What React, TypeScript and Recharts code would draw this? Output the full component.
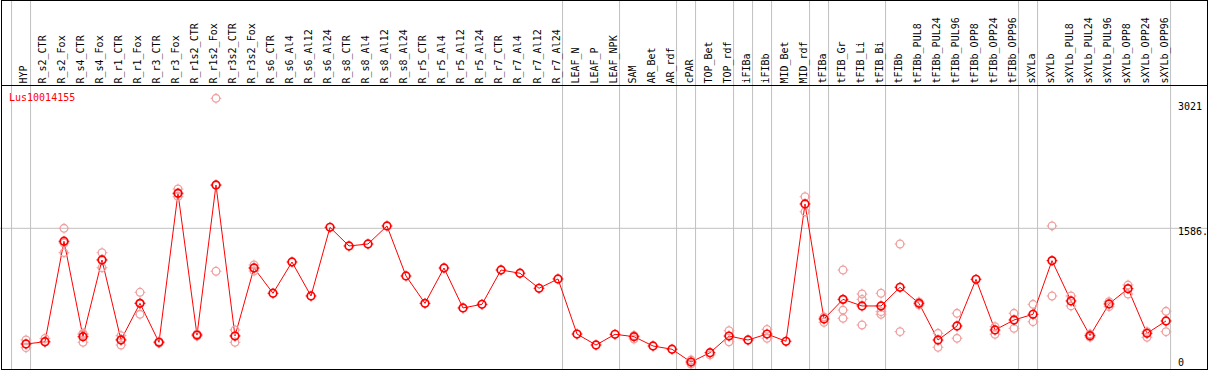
import React from 'react';
import { ComposedChart, Line, Scatter, XAxis, YAxis, ReferenceLine } from 'recharts';

const categories = [
  'HYP', 'R_s2_CTR', 'R_s2_Fox', 'R_s4_CTR', 'R_s4_Fox', 'R_r1_CTR', 'R_r1_Fox', 'R_r3_CTR', 'R_r3_Fox',
  'R_r1s2_CTR', 'R_r1s2_Fox', 'R_r3s2_CTR', 'R_r3s2_Fox', 'R_s6_CTR', 'R_s6_Al4', 'R_s6_Al12', 'R_s6_Al24',
  'R_s8_CTR', 'R_s8_Al4', 'R_s8_Al12', 'R_s8_Al24', 'R_r5_CTR', 'R_r5_Al4', 'R_r5_Al12', 'R_r5_Al24',
  'R_r7_CTR', 'R_r7_Al4', 'R_r7_Al12', 'R_r7_Al24', 'LEAF_N', 'LEAF_P', 'LEAF_NPK', 'SAM', 'AR_Bet', 'AR_rdf',
  'cPAR', 'TOP_Bet', 'TOP_rdf', 'iFIBa', 'iFIBb', 'MID_Bet', 'MID_rdf', 'tFIBa', 'tFIB_Gr', 'tFIB_Li', 'tFIB_Bi',
  'tFIBb', 'tFIBb_PUL8', 'tFIBb_PUL24', 'tFIBb_PUL96', 'tFIBb_OPP8', 'tFIBb_OPP24', 'tFIBb_OPP96', 'sXYLa',
  'sXYLb', 'sXYLb_PUL8', 'sXYLb_PUL24', 'sXYLb_PUL96', 'sXYLb_OPP8', 'sXYLb_OPP24', 'sXYLb_OPP96',
];

const meanValues = [
  309, 334, 1443, 390, 1236, 353, 758, 328, 1973,
  408, 2064, 397, 1148, 869, 1214, 839, 1597,
  1391, 1413, 1612, 1060, 758, 1148, 707, 747,
  1126, 1090, 924, 1027, 419, 298, 416, 390, 287, 251,
  110, 213, 397, 353, 419, 339, 1855, 585, 802, 729, 729,
  935, 758, 353, 508, 1023, 464, 574, 637,
  1229, 784, 401, 751, 920, 427, 563,
];

const replicateValues: number[][] = [
  [353, 268], [370, 331], [1586, 1424, 1317], [427, 414, 328], [1317, 1241, 1151],
  [401, 361, 298], [880, 758, 637], [337, 320], [2020, 1965, 1935],
  [419, 397], [3021, 2060, 1112], [464, 401, 328], [1181, 1148, 1115],
  [], [], [], [], [], [], [], [], [], [], [], [], [], [], [], [], [], [], [],
  [403, 364], [], [], [132, 88], [188], [456, 334], [], [471, 372], [], [1935, 1769],
  [607, 549], [1126, 684, 593], [861, 802, 519], [869, 666, 637],
  [1413, 445], [773, 740], [427, 273], [648, 372], [], [500, 416], [648, 482], [747, 555],
  [1612, 839], [839, 729], [419, 386], [776, 721], [960, 861], [445, 383], [670, 445],
];

// group boundaries: a separator follows each of these category positions (-1 = before the first)
const groupEnds = [-1, 0, 28, 31, 34, 35, 37, 38, 39, 41, 42, 45, 52, 53, 60];
const yTicks = [0, 1586, 3021];
const yTickLabels = ['0', '1586.', '3021'];
const geneName = 'Lus10014155';

// x positions are 1-based category slots
const mainData = categories.map((name, i) => ({ x: i + 1, y: meanValues[i], name }));
const repData = replicateValues.flatMap((arr, i) => arr.map((v) => ({ x: i + 1, y: v })));

const MONO = '"DejaVu Sans Mono", "Liberation Mono", monospace';
const Y_MAX = 4095;

const Marker = ({ cx, cy, color, sw }: any) => {
  if (cx == null || cy == null || isNaN(cx) || isNaN(cy)) return <g />;
  const r = 3.8;
  const t = 1.6;
  return (
    <g>
      <circle cx={cx} cy={cy} r={r} fill="none" stroke={color} strokeWidth={sw} />
      <line x1={cx} y1={cy - r} x2={cx} y2={cy - r - t} stroke={color} strokeWidth={1} />
      <line x1={cx} y1={cy + r} x2={cx} y2={cy + r + t} stroke={color} strokeWidth={1} />
      <line x1={cx - r} y1={cy} x2={cx - r - t} y2={cy} stroke={color} strokeWidth={1} />
      <line x1={cx + r} y1={cy} x2={cx + r + t} y2={cy} stroke={color} strokeWidth={1} />
    </g>
  );
};

const XTick = ({ x, payload }: any) => (
  <text
    transform={`translate(${x + 1.5},83.5) rotate(-90)`}
    fontFamily={MONO}
    fontSize={10}
    fill="#000"
    textAnchor="start"
  >
    {categories[payload.value - 1]}
  </text>
);

const tickDy: Record<number, number> = { 0: -6.5, 1586: 7, 3021: 12 };

const YTick = ({ y, payload }: any) => {
  const idx = yTicks.indexOf(payload.value);
  return (
    <text x={1178} y={y + (tickDy[payload.value] ?? 0)} fontFamily={MONO} fontSize={10} fill="#000" textAnchor="start">
      {yTickLabels[idx]}
    </text>
  );
};

export default function App() {
  return (
    <div style={{ position: 'absolute', left: 0, top: 0, width: 1209, height: 370, overflow: 'hidden', background: '#fff' }}>
      <ComposedChart width={1209} height={372} data={mainData} margin={{ top: 0, right: 0, bottom: 0, left: 0 }}>
        <XAxis
          type="number"
          dataKey="x"
          domain={[-0.368, 63.21]}
          ticks={categories.map((_, i) => i + 1)}
          interval={0}
          orientation="top"
          height={1}
          axisLine={false}
          tickLine={false}
          tick={<XTick />}
          allowDataOverflow
        />
        <YAxis
          type="number"
          domain={[0, Y_MAX]}
          ticks={yTicks}
          orientation="right"
          width={1}
          axisLine={false}
          tickLine={false}
          tick={<YTick />}
          interval={0}
          allowDataOverflow
        />
        {groupEnds.map((g, k) => (
          <ReferenceLine key={`grp-${k}`} x={g + 1.24} stroke="#c0c0c0" strokeWidth={1} ifOverflow="visible" />
        ))}
        <ReferenceLine y={1586} stroke="#c0c0c0" strokeWidth={1} ifOverflow="visible" />
        <Scatter
          data={repData}
          dataKey="y"
          isAnimationActive={false}
          shape={(p: any) => <Marker cx={p.cx} cy={p.cy} color="#f0a0a0" sw={1.3} />}
        />
        <Line
          dataKey="y"
          stroke="#ff0000"
          strokeWidth={1}
          isAnimationActive={false}
          activeDot={false}
          dot={(p: any) => <Marker key={`d${p.index}`} cx={p.cx} cy={p.cy} color="#ff0000" sw={1.7} />}
        />
      </ComposedChart>
      <svg width={1209} height={370} style={{ position: 'absolute', left: 0, top: 0, pointerEvents: 'none' }}>
        <rect x={1.5} y={0.5} width={1206} height={369} fill="none" stroke="#000" strokeWidth={1} />
        <line x1={1} y1={85.5} x2={1207} y2={85.5} stroke="#000" strokeWidth={1} />
        <text x={9} y={101} fontFamily={MONO} fontSize={10} fill="#ff0000">
          {geneName}
        </text>
      </svg>
    </div>
  );
}
